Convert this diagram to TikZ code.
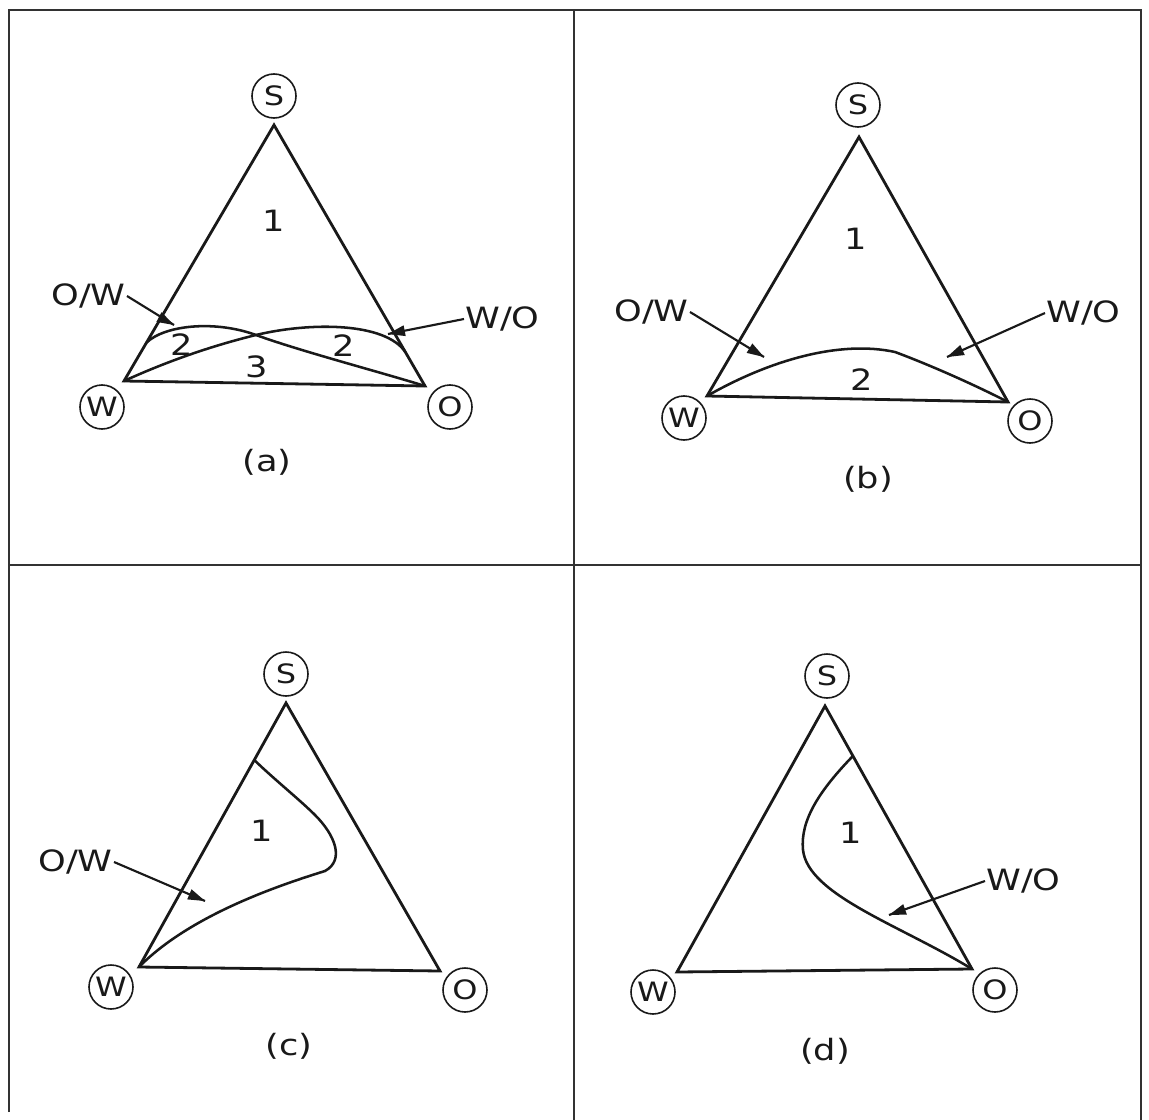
\documentclass[tikz,border=0pt]{standalone}
\usepackage{fontspec}
\setmainfont{DejaVu Sans}[FakeStretch=1.2]
\usetikzlibrary{calc}

\begin{document}
\begin{tikzpicture}[x=0.75pt,y=0.75pt,yscale=-1,xscale=1,
  pnl/.style={line width=1.9pt, color={rgb, 255:red, 50; green, 50; blue, 50 }},
  tri/.style={line width=2.1pt, color={rgb, 255:red, 25; green, 25; blue, 25 }, line join=miter},
  bnd/.style={line width=1.9pt, color={rgb, 255:red, 25; green, 25; blue, 25 }},
  ptr/.style={line width=1.6pt, color={rgb, 255:red, 25; green, 25; blue, 25 }},
  arrhead/.style={fill={rgb, 255:red, 25; green, 25; blue, 25 }, line width=0.08, draw opacity=0},
  comp/.style={draw, circle, line width=1.2pt, minimum size=33pt, inner sep=0pt, color={rgb, 255:red, 25; green, 25; blue, 25 }, font=\fontsize{20}{22}\selectfont},
  txt/.style={inner sep=0.75pt, color={rgb, 255:red, 25; green, 25; blue, 25 }, font=\fontsize{22}{24}\selectfont}]
\useasboundingbox (0,0) rectangle (1149,1120);

%Straight Lines: outer frame and dividers
\draw [pnl] (9,1112) -- (9,10) -- (1141,10) -- (1141,1120) ;
\draw [pnl] (574,10) -- (574,1120) ;
\draw [pnl] (9,565) -- (1141,565) ;

%%%%%%%%%%%%%%%% (a)
%Shape: Triangle
\coordinate (sa) at (274,125) ;
\coordinate (wa) at (124,381) ;
\coordinate (oa) at (425,386) ;
\draw [tri] (sa) -- (wa) -- (oa) -- cycle ;
%Curve Lines
\coordinate (xa) at (256,335) ;
\draw [bnd] ($(sa)!0.85!(wa)$) .. controls (165,325) and (215,320) .. (xa) .. controls (300,351) and (380,372) .. (oa) ;
\draw [bnd] (wa) .. controls (170,360) and (215,345) .. (xa) .. controls (310,322) and (385,322) .. ($(sa)!0.87!(oa)$) ;

% Text Node
\draw (274,96) node [comp] (csa) {S};
\draw (102,407) node [comp] (cwa) {W};
\draw (450,407) node [comp] (coa) {O};
\draw (274,221) node [txt] (r1a) {1};
\draw (182,345) node [txt] (r2a) {2};
\draw (344,346) node [txt] (r2b) {2};
\draw (257,367) node [txt] (r3a) {3};
\draw (267,462) node [txt] (capa) {(a)};
\draw (127,296) node [txt, anchor=east] (owa) {O/W};
\draw (464,319) node [txt, anchor=west] (woa) {W/O};

%Straight Lines: pointers
\coordinate (owtipa) at (174,325) ;
\draw [ptr] (owa.east) -- (owtipa) ;
\draw [shift={(owtipa)}, rotate = 208.0] [arrhead] (17,-5.5) -- (0,0) -- (17,5.5) -- cycle ;
\coordinate (wotipa) at (388,334) ;
\draw [ptr] (woa.west) -- (wotipa) ;
\draw [shift={(wotipa)}, rotate = 348.8] [arrhead] (17,-5.5) -- (0,0) -- (17,5.5) -- cycle ;

%%%%%%%%%%%%%%%% (b)
%Shape: Triangle
\coordinate (sb) at (859,137) ;
\coordinate (wb) at (707,396) ;
\coordinate (ob) at (1008,402) ;
\draw [tri] (sb) -- (wb) -- (ob) -- cycle ;
%Curve Lines
\draw [bnd] (wb) .. controls (770,360) and (840,340) .. (895,352) .. controls (930,365) and (975,385) .. (ob) ;

% Text Node
\draw (858,105) node [comp] (csb) {S};
\draw (684,418) node [comp] (cwb) {W};
\draw (1030,421) node [comp] (cob) {O};
\draw (856,239) node [txt] (r1b) {1};
\draw (862,380) node [txt] (r2c) {2};
\draw (868,479) node [txt] (capb) {(b)};
\draw (690,312) node [txt, anchor=east] (owb) {O/W};
\draw (1045,313) node [txt, anchor=west] (wob) {W/O};

%Straight Lines: pointers
\coordinate (owtipb) at (764,357) ;
\draw [ptr] (owb.east) -- (owtipb) ;
\draw [shift={(owtipb)}, rotate = 211.3] [arrhead] (17,-5.5) -- (0,0) -- (17,5.5) -- cycle ;
\coordinate (wotipb) at (947,357) ;
\draw [ptr] (wob.west) -- (wotipb) ;
\draw [shift={(wotipb)}, rotate = 335.8] [arrhead] (17,-5.5) -- (0,0) -- (17,5.5) -- cycle ;

%%%%%%%%%%%%%%%% (c)
%Shape: Triangle
\coordinate (sc) at (286,703) ;
\coordinate (wc) at (139,967) ;
\coordinate (oc) at (440,971) ;
\draw [tri] (sc) -- (wc) -- (oc) -- cycle ;
%Curve Lines
\draw [bnd] ($(sc)!0.216!(wc)$) .. controls (275,780) and (300,800) .. (315,815) .. controls (335,835) and (345,860) .. (325,871) .. controls (280,885) and (190,915) .. (wc) ;

% Text Node
\draw (286,674) node [comp] (csc) {S};
\draw (111,987) node [comp] (cwc) {W};
\draw (465,990) node [comp] (coc) {O};
\draw (262,831) node [txt] (r1c) {1};
\draw (289,1046) node [txt] (capc) {(c)};
\draw (114,862) node [txt, anchor=east] (owc) {O/W};

%Straight Lines: pointer
\coordinate (owtipc) at (205,901) ;
\draw [ptr] (owc.east) -- (owtipc) ;
\draw [shift={(owtipc)}, rotate = 203.1] [arrhead] (17,-5.5) -- (0,0) -- (17,5.5) -- cycle ;

%%%%%%%%%%%%%%%% (d)
%Shape: Triangle
\coordinate (sd) at (825,706) ;
\coordinate (wd) at (677,972) ;
\coordinate (od) at (972,969) ;
\draw [tri] (sd) -- (wd) -- (od) -- cycle ;
%Curve Lines
\draw [bnd] ($(sd)!0.19!(od)$) .. controls (820,790) and (800,820) .. (803,850) .. controls (808,895) and (900,925) .. (od) ;

% Text Node
\draw (827,676) node [comp] (csd) {S};
\draw (653,992) node [comp] (cwd) {W};
\draw (995,990) node [comp] (cod) {O};
\draw (851,833) node [txt] (r1d) {1};
\draw (825,1051) node [txt] (capd) {(d)};
\draw (985,881) node [txt, anchor=west] (wod) {W/O};

%Straight Lines: pointer
\coordinate (wotipd) at (889,915) ;
\draw [ptr] (wod.west) -- (wotipd) ;
\draw [shift={(wotipd)}, rotate = 340.6] [arrhead] (17,-5.5) -- (0,0) -- (17,5.5) -- cycle ;

\end{tikzpicture}
\end{document}
